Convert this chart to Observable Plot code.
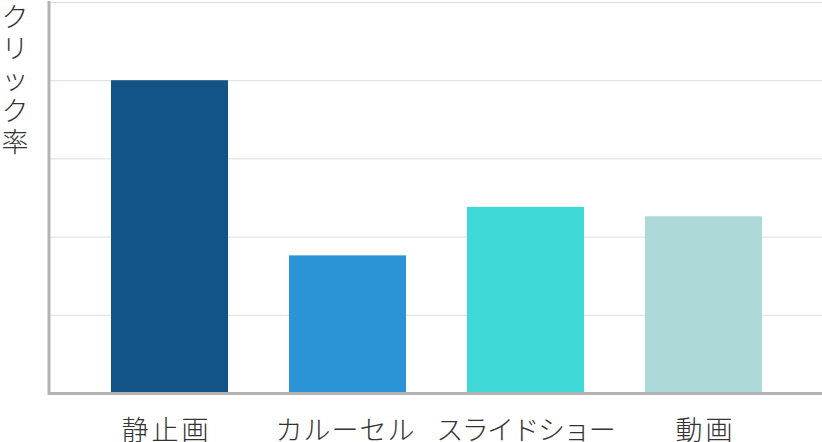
<!DOCTYPE html>
<html>
<head>
<meta charset="utf-8">
<script src="https://cdn.jsdelivr.net/npm/d3@7"></script>
<script src="https://cdn.jsdelivr.net/npm/@observablehq/plot@0.6"></script>
<style>
  html, body { margin: 0; padding: 0; background: #fff; }
  #chart { width: 822px; height: 442px; overflow: hidden; }
  svg { font-family: "Noto Sans CJK JP", "Noto Sans", sans-serif; }
</style>
</head>
<body>
<div id="chart"></div>
<script>
const categories = ["静止画", "カルーセル", "スライドショー", "動画"];
const values = [4.0, 1.76, 2.38, 2.26];
const colors = ["#135488", "#2b94d6", "#3ed9d6", "#add9d8"];
const yTicks = [1, 2, 3, 4, 5];
const yLabel = "ク\nリ\nッ\nク\n率";
const labelSpacing = [3, 1, -1.6, 3];
const labelShift = [-5, -3, 0, 0];

const data = categories.map((c, i) => ({category: c, value: values[i]}));

const chart = Plot.plot({
  width: 822,
  height: 442,
  marginLeft: 48.5,
  marginRight: 0,
  marginTop: 2,
  marginBottom: 49,
  style: {fontFamily: '"Noto Sans CJK JP", "Noto Sans", sans-serif', background: "#fff"},
  x: {domain: categories, range: [48.5, 825], paddingInner: 0.342, paddingOuter: 0.342, label: null},
  y: {domain: [0, 5], label: null},
  color: {domain: categories, range: colors},
  marks: [
    Plot.gridY(yTicks, {stroke: "#d9dde4", strokeOpacity: 1, strokeWidth: 1}),
    Plot.barY(data, {x: "category", y: "value", fill: "category"}),
    Plot.axisY({ticks: [], tickSize: 0, label: null}),
    Plot.axisX({tickSize: 0, tickPadding: 27, fontSize: 27, fontWeight: 300, fill: "#333", label: null}),
    Plot.ruleY([0], {stroke: "#b3b3b3", strokeWidth: 3}),
    Plot.frame({anchor: "left", stroke: "#b3b3b3", strokeWidth: 3}),
    Plot.text([yLabel], {frameAnchor: "top-left", dx: -34, dy: 2, fontSize: 27, fontWeight: 300, lineHeight: 1.16, lineAnchor: "top", textAnchor: "middle", fill: "#333"})
  ]
});
const tickTexts = chart.querySelectorAll("g[aria-label='x-axis tick label'] text");
tickTexts.forEach((t, i) => {
  const ls = labelSpacing[i] ?? 0;
  t.style.letterSpacing = ls + "px";
  t.setAttribute("dx", (ls / 2 + (labelShift[i] ?? 0)) + "px");
});
document.getElementById("chart").appendChild(chart);
</script>
</body>
</html>
